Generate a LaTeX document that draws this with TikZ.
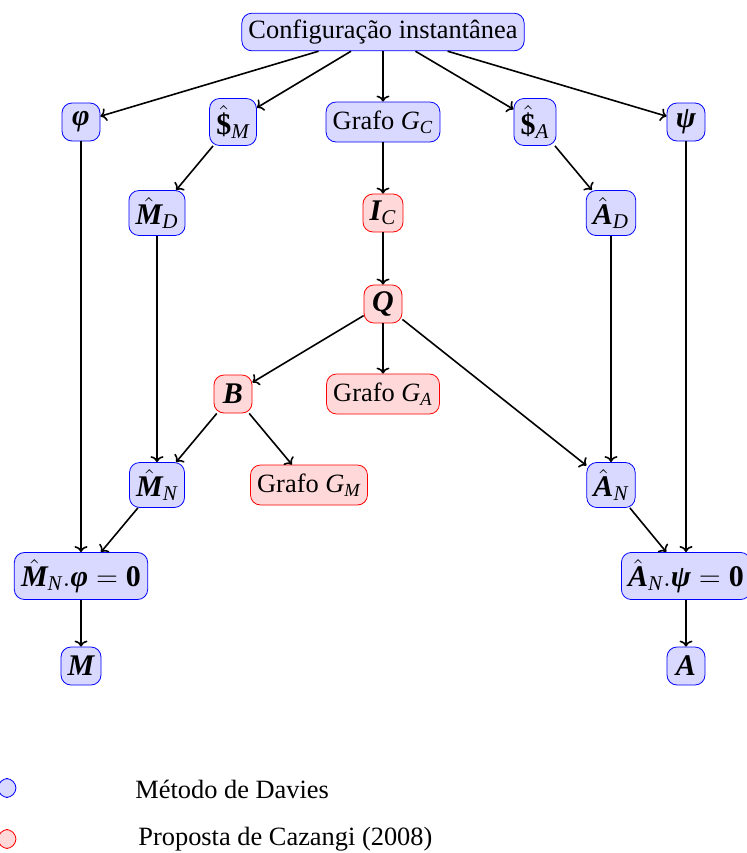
\documentclass[tikz,border=0pt]{standalone}
\usepackage{amsmath}
\usepackage{fontspec}
\setmainfont{Liberation Serif}
\usetikzlibrary{arrows.meta}
% bold italic and italic letters taken from the text font
\newcommand\bmi[1]{\text{\bfseries\itshape #1}}
\newcommand\tmi[1]{\text{\itshape #1}}
\newcommand\tbf[1]{\text{\bfseries #1}}
\begin{document}
\begin{tikzpicture}[x=0.5pt,y=-0.5pt,
  every node/.style={font=\fontsize{13.2}{15}\selectfont},
  davies/.style={draw=blue,fill=blue!15,rounded corners=5pt},
  cazangi/.style={draw=red,fill=red!15,rounded corners=5pt},
  sym/.style={font=\fontsize{15}{17}\selectfont,minimum height=19pt,minimum width=19pt},
  flow/.style={-{To[length=3pt,width=6.5pt]},line width=0.8pt}]
\useasboundingbox (0,0) rectangle (747,853);

% first level
\node[davies] (conf) at (383,32) {Configuração instantânea};
\node[davies,sym] (phi)  at (81,122)  {$\bmi{φ}$};
\node[davies,sym] (SM)   at (233,122) {$\hat{\tbf{\$}}_{\tmi{M}}$};
\node[davies,minimum height=20pt] (GC)   at (383,122) {Grafo \textit{G}$_{\tmi{C}}$};
\node[davies,sym] (SA)   at (535,122) {$\hat{\tbf{\$}}_{\tmi{A}}$};
\node[davies,sym] (psi)  at (686,122) {$\bmi{ψ}$};

% second level
\node[davies,sym]  (MD) at (157,213) {$\hat{\bmi{M}}_{\tmi{D}}$};
\node[cazangi,sym] (IC) at (383,213) {$\bmi{I}_{\tmi{C}}$};
\node[davies,sym]  (AD) at (611,213) {$\hat{\bmi{A}}_{\tmi{D}}$};

% Cazangi branch
\node[cazangi,sym] (Q)  at (383,304) {$\bmi{Q}$};
\node[cazangi,sym] (B)  at (233,394) {$\bmi{B}$};
\node[cazangi,minimum height=20pt] (GA) at (383,394) {Grafo \textit{G}$_{\tmi{A}}$};
\node[cazangi,minimum height=20pt] (GM) at (309,485) {Grafo \textit{G}$_{\tmi{M}}$};

% normalised matrices
\node[davies,sym] (MN) at (157,485) {$\hat{\bmi{M}}_{\tmi{N}}$};
\node[davies,sym] (AN) at (611,485) {$\hat{\bmi{A}}_{\tmi{N}}$};

% equations and results
\node[davies,sym] (eqM) at (81,576)  {$\hat{\bmi{M}}_{\tmi{N}}.\bmi{φ}=\tbf{0}$};
\node[davies,sym] (eqA) at (686,576) {$\hat{\bmi{A}}_{\tmi{N}}.\bmi{ψ}=\tbf{0}$};
\node[davies,sym] (M) at (81,666)  {$\bmi{M}$};
\node[davies,sym] (A) at (686,666) {$\bmi{A}$};

% connectors
\draw[flow] (conf) -- (phi);
\draw[flow] (conf) -- (SM);
\draw[flow] (conf) -- (GC);
\draw[flow] (conf) -- (SA);
\draw[flow] (conf) -- (psi);
\draw[flow] (SM) -- (MD);
\draw[flow] (SA) -- (AD);
\draw[flow] (GC) -- (IC);
\draw[flow] (IC) -- (Q);
\draw[flow] (Q) -- (B);
\draw[flow] (Q) -- (GA);
\draw[flow] (Q) -- (AN);
\draw[flow] (B) -- (MN);
\draw[flow] (B) -- (GM);
\draw[flow] (MD) -- (MN);
\draw[flow] (AD) -- (AN);
\draw[flow] (phi) -- (eqM);
\draw[flow] (psi) -- (eqA);
\draw[flow] (MN) -- (eqM);
\draw[flow] (AN) -- (eqA);
\draw[flow] (eqM) -- (M);
\draw[flow] (eqA) -- (A);

% legend
\node[davies,minimum width=9pt,minimum height=9.5pt,inner sep=0pt] (kd) at (7,788) {};
\node[cazangi,minimum width=9pt,minimum height=9.5pt,inner sep=0pt] (kc) at (7,839) {};
\node[anchor=west,inner sep=0pt] (td) at (135,789) {Método de Davies};
\node[anchor=west,inner sep=0pt] (tc) at (138,839) {Proposta de Cazangi (2008)};
\end{tikzpicture}
\end{document}
